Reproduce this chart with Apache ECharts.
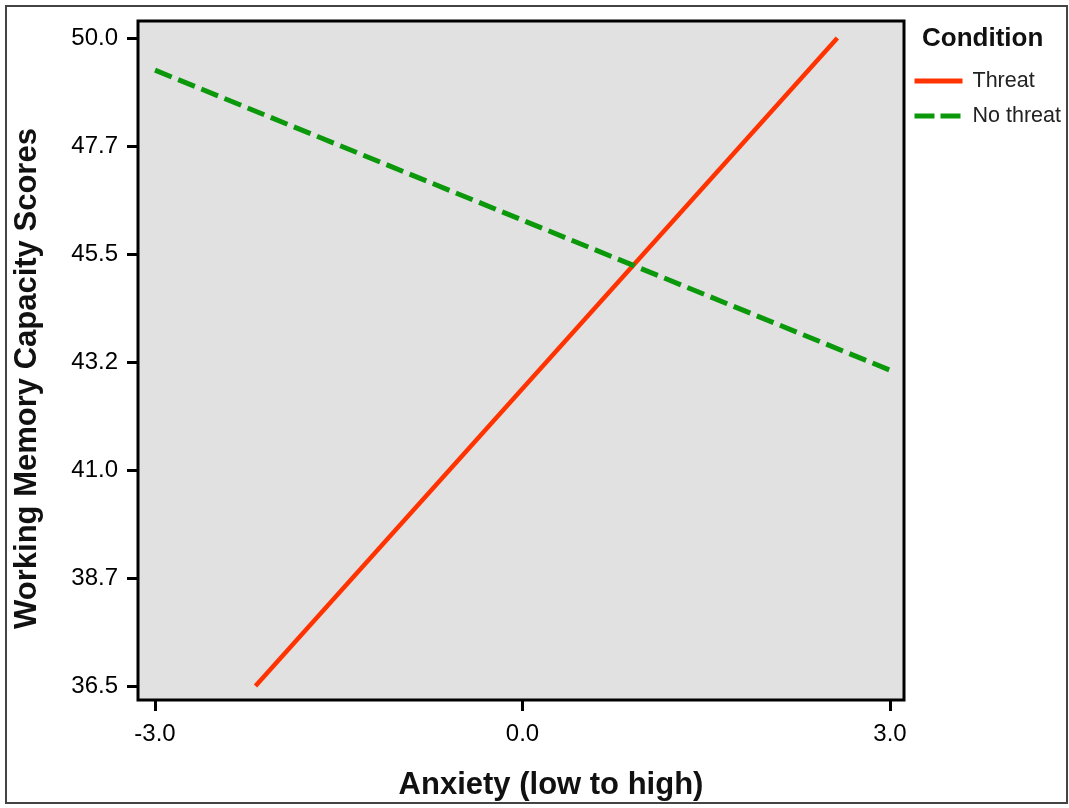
<!DOCTYPE html>
<html>
<head>
<meta charset="utf-8">
<script src="https://cdn.jsdelivr.net/npm/echarts@6/dist/echarts.min.js"></script>
<style>
html,body{margin:0;padding:0;background:#fff;}
#c{width:1069px;height:808px;}
</style>
</head>
<body>
<div id="c"></div>
<script>
// Data
var seriesNames = ['Threat', 'No threat'];
var threatX = [-2.18, 2.57];
var threatY = [36.5, 50.0];
var noThreatX = [-3.0, 3.0];
var noThreatY = [49.33, 43.08];
var xTickValues = [-3, 0, 3];
var xTickLabels = ['-3.0', '0.0', '3.0'];
var yTickValues = [36.5, 38.75, 41.0, 43.25, 45.5, 47.75, 50.0];
var yTickLabels = ['36.5', '38.7', '41.0', '43.2', '45.5', '47.7', '50.0'];

function pairs(xs, ys) { return xs.map(function (x, i) { return [x, ys[i]]; }); }
function labelFor(values, labels) {
  return function (v) {
    for (var i = 0; i < values.length; i++) { if (Math.abs(values[i] - v) < 1e-6) return labels[i]; }
    return '';
  };
}

var FONT = '"Liberation Sans", Arial, sans-serif';
var RED = '#ff3300', GREEN = '#0b990b';
var chart = echarts.init(document.getElementById('c'), null, { renderer: 'canvas' });
chart.setOption({
  animation: false,
  backgroundColor: '#ffffff',
  title: {
    text: 'Condition', left: 922, top: 26, padding: 0,
    textStyle: { fontFamily: FONT, fontSize: 26, fontWeight: 'bold', color: '#111' }
  },
  legend: {
    orient: 'vertical', left: 912, top: 70, padding: 0,
    itemWidth: 48, itemHeight: 20, itemGap: 13,
    data: [
      { name: seriesNames[0], itemStyle: { opacity: 0 }, lineStyle: { color: RED, width: 5, type: 'solid' } },
      { name: seriesNames[1], itemStyle: { opacity: 0 }, lineStyle: { color: GREEN, width: 5, type: [20, 6] } }
    ],
    textStyle: { fontFamily: FONT, fontSize: 21.5, color: '#222', padding: [0, 0, 0, 5], lineHeight: 20 }
  },
  grid: {
    left: 138, top: 21, right: 165, bottom: 108,
    show: true, backgroundColor: '#e1e1e1', borderColor: '#000', borderWidth: 3
  },
  xAxis: {
    type: 'value', min: -3.139, max: 3.114,
    name: 'Anxiety (low to high)', nameLocation: 'middle', nameGap: 70,
    nameTextStyle: { fontFamily: FONT, fontSize: 31, fontWeight: 'bold', color: '#111', padding: [0, 0, 0, 60] },
    axisLine: { show: false, onZero: false },
    splitLine: { show: false },
    axisTick: { show: true, length: 11, customValues: xTickValues, lineStyle: { color: '#000', width: 3 } },
    axisLabel: { customValues: xTickValues, margin: 22, fontFamily: FONT, fontSize: 24, color: '#000',
      formatter: labelFor(xTickValues, xTickLabels) }
  },
  yAxis: {
    type: 'value', min: 36.21, max: 50.354,
    name: 'Working Memory Capacity Scores', nameLocation: 'middle', nameGap: 95,
    nameTextStyle: { fontFamily: FONT, fontSize: 31, fontWeight: 'bold', color: '#111', padding: [0, 36, 0, 0] },
    axisLine: { show: false, onZero: false },
    splitLine: { show: false },
    axisTick: { show: true, length: 11, customValues: yTickValues, lineStyle: { color: '#000', width: 3 } },
    axisLabel: { customValues: yTickValues, margin: 20, fontFamily: FONT, fontSize: 24, color: '#000',
      formatter: labelFor(yTickValues, yTickLabels) }
  },
  series: [
    {
      name: seriesNames[0], type: 'line', data: pairs(threatX, threatY),
      symbol: 'none', showSymbol: false,
      lineStyle: { color: RED, width: 4.5 }, itemStyle: { color: RED }
    },
    {
      name: seriesNames[1], type: 'line', data: pairs(noThreatX, noThreatY),
      symbol: 'none', showSymbol: false,
      lineStyle: { color: GREEN, width: 5, type: [18, 7] }, itemStyle: { color: GREEN }
    }
  ],
  graphic: [{
    type: 'rect', silent: true, z: 100,
    shape: { x: 6, y: 6, width: 1061, height: 797 },
    style: { fill: 'none', stroke: '#444', lineWidth: 2 }
  }]
});
</script>
</body>
</html>
